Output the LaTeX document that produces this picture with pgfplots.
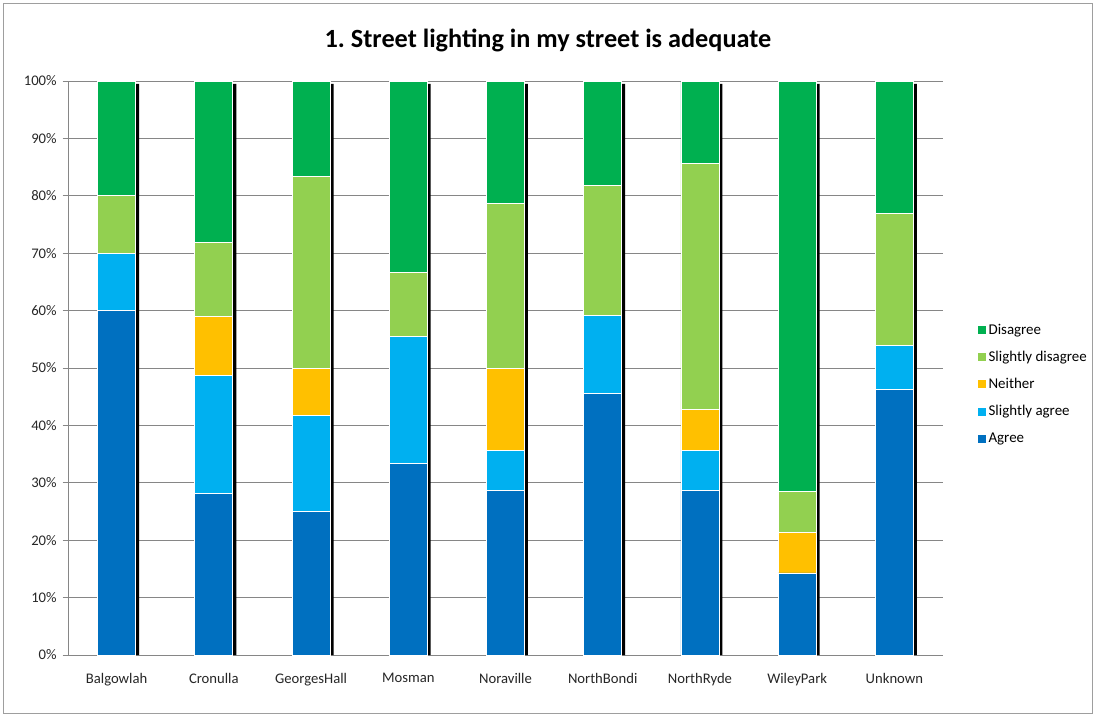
\documentclass[border=0pt]{standalone}
\usepackage{pgfplots}
\usepackage{pgfplotstable}
\pgfplotsset{compat=1.18}
\usepackage{fontspec}
\setmainfont{Carlito}
\definecolor{cAgree}{HTML}{0070C0}
\definecolor{cSAgree}{HTML}{00B0F0}
\definecolor{cNeither}{HTML}{FFC000}
\definecolor{cSDis}{HTML}{92D050}
\definecolor{cDis}{HTML}{00B050}
\definecolor{axgray}{HTML}{868686}
\pgfplotstableread{
x agree sagree neither sdis dis
0 60.0 10.0 0 10.0 20.0
1 28.2 20.5 10.3 12.8 28.2
2 25.0 16.7 8.3 33.3 16.7
3 33.3 22.2 0 11.1 33.4
4 28.6 7.1 14.3 28.6 21.4
5 45.5 13.6 0 22.7 18.2
6 28.6 7.1 7.1 42.9 14.3
7 14.3 0 7.1 7.1 71.5
8 46.2 7.7 0 23.1 23.0
}\datatable
\pgfplotstableread{
x s
0 99.5
1 99.5
2 99.5
3 99.5
4 99.5
5 99.5
6 99.5
7 99.5
8 99.5
}\shadowtable
\begin{document}
\frenchspacing
\begin{tikzpicture}[x=0.75pt,y=0.75pt]
\path (0,0) rectangle (1094,-715);
\draw[axgray!80, line width=0.75pt] (3,-3) rectangle (1092,-713);
\node[font=\bfseries\fontsize{19.7}{23}\selectfont] at (548,-40) {1. Street lighting in my street is adequate};
\pgfplotsset{
  base/.style={
    scale only axis,
    width=656.25pt, height=430.5pt,
    at={(51pt,-491.25pt)}, anchor=south west,
    xmin=-0.5, xmax=8.5, ymin=0, ymax=100,
  }
}
\begin{axis}[base,
  axis x line*=bottom, axis y line*=left,
  axis line style={draw=axgray, line width=0.75pt},
  ymajorgrids, grid style={draw=axgray, line width=0.75pt},
  ytick={0,10,...,100},
  yticklabels={0\%,10\%,20\%,30\%,40\%,50\%,60\%,70\%,80\%,90\%,100\%},
  xtick={0,...,8},
  xticklabels={Balgowlah,Cronulla,GeorgesHall,Mosman,Noraville,NorthBondi,NorthRyde,WileyPark,Unknown},
  x tick style={draw=none},
  y tick style={draw=axgray, line width=0.75pt},
  tick align=outside, major tick length=4pt,
  extra x ticks={-0.5,0.5,...,8.5},
  extra x tick labels={},
  extra x tick style={tick style={draw=axgray, line width=0.75pt}, major tick length=4pt, grid=none},
  tick label style={font=\fontsize{11}{13}\selectfont, text=black!85},
  yticklabel style={xshift=-1pt},
  xticklabel style={yshift=-6pt},
  ybar, bar width=28.5pt, bar shift=2.6pt,
]
\addplot[fill=black, draw=none] table[x=x, y=s] {\shadowtable};
\end{axis}
\begin{axis}[base, hide axis,
  ybar stacked, bar width=28.5pt,
  reverse legend,
  legend style={at={(1.035,0.472)}, anchor=west, draw=none, fill=none,
    font=\fontsize{11.2}{13}\selectfont, row sep=7.2pt, cells={anchor=west}},
  legend image code/.code={\fill[#1, draw=none] (0pt,-3pt) rectangle (6pt,3pt);},
  every axis plot/.append style={draw=white, line width=0.6pt},
]
\addplot[fill=cAgree] table[x=x, y=agree] {\datatable};
\addplot[fill=cSAgree] table[x=x, y=sagree] {\datatable};
\addplot[fill=cNeither] table[x=x, y=neither] {\datatable};
\addplot[fill=cSDis] table[x=x, y=sdis] {\datatable};
\addplot[fill=cDis] table[x=x, y=dis] {\datatable};
\legend{Agree,Slightly agree,Neither,Slightly disagree,Disagree}
\end{axis}
\end{tikzpicture}
\end{document}
